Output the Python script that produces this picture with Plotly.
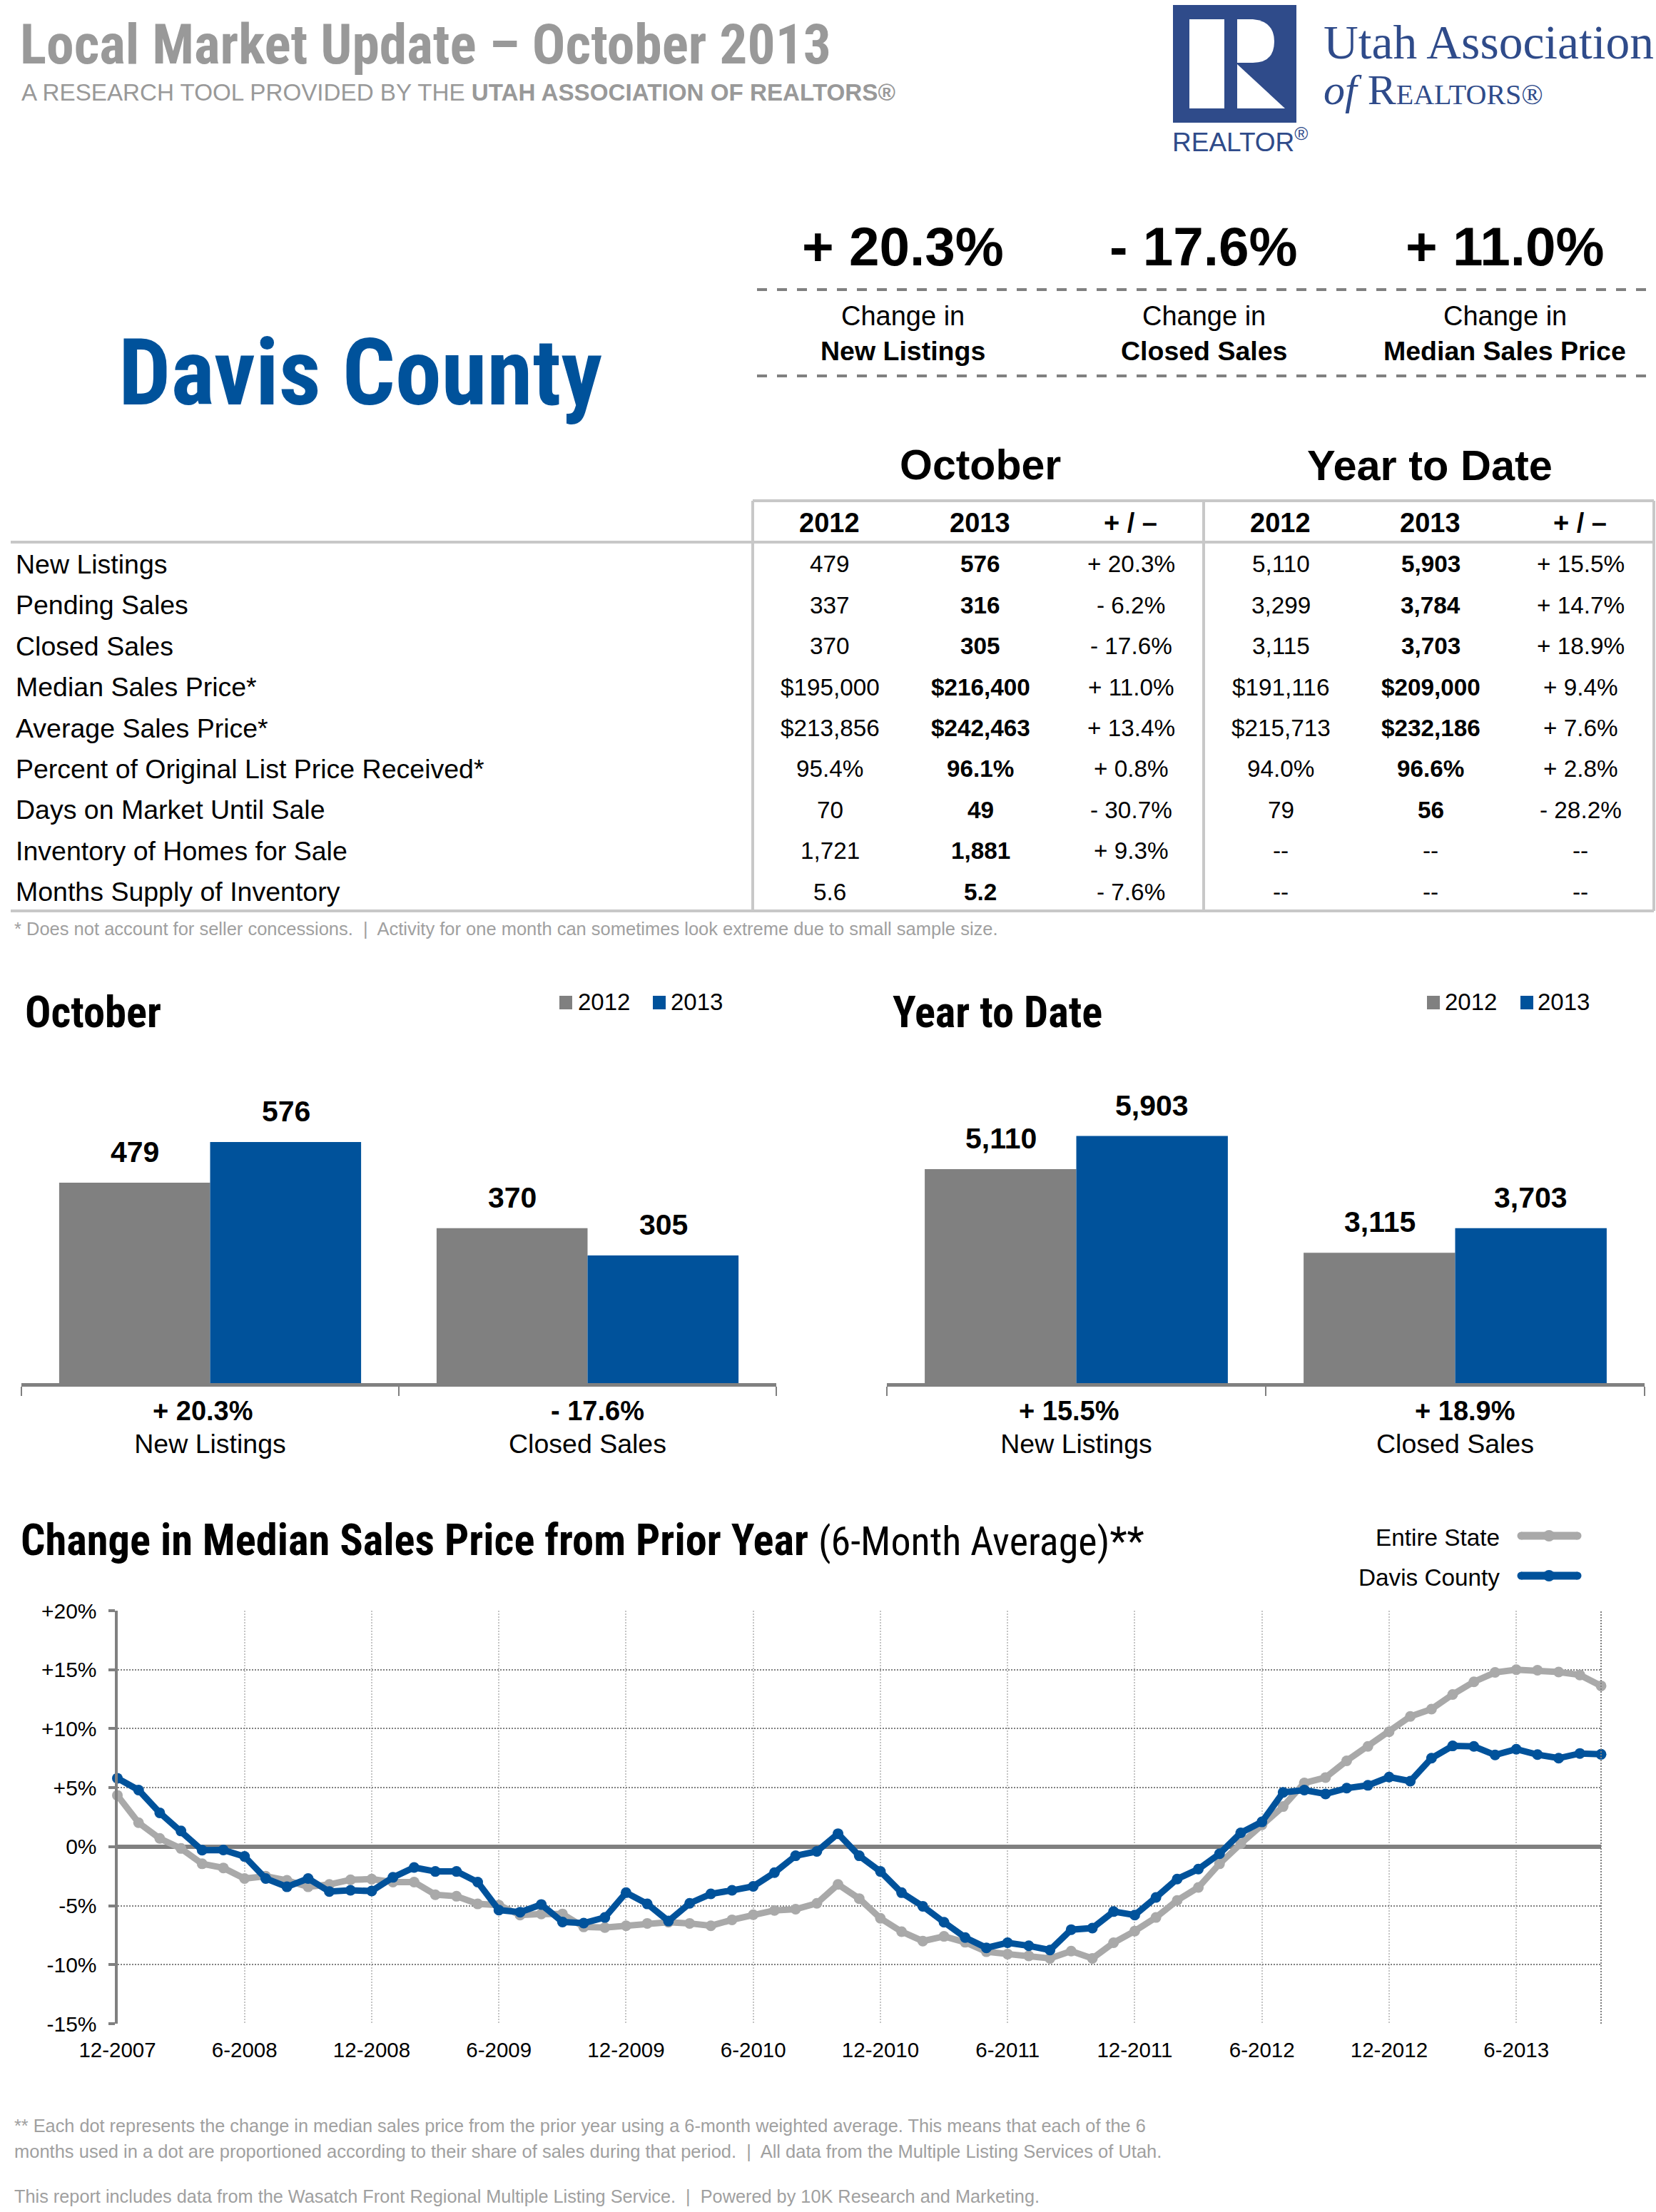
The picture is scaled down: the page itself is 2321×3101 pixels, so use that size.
import plotly.graph_objects as go

W, H = 2321, 3101
BODY = "Liberation Sans"
NARROW = "Roboto Condensed"
BLUE = "#00529b"
GRAY = "#808080"
LOGO = "#2f4b8a"

# table
row_labels = ["New Listings", "Pending Sales", "Closed Sales", "Median Sales Price*", "Average Sales Price*",
              "Percent of Original List Price Received*", "Days on Market Until Sale",
              "Inventory of Homes for Sale", "Months Supply of Inventory"]
oct_2012 = ["479", "337", "370", "$195,000", "$213,856", "95.4%", "70", "1,721", "5.6"]
oct_2013 = ["576", "316", "305", "$216,400", "$242,463", "96.1%", "49", "1,881", "5.2"]
oct_change = ["+ 20.3%", "- 6.2%", "- 17.6%", "+ 11.0%", "+ 13.4%", "+ 0.8%", "- 30.7%", "+ 9.3%", "- 7.6%"]
ytd_2012 = ["5,110", "3,299", "3,115", "$191,116", "$215,713", "94.0%", "79", "--", "--"]
ytd_2013 = ["5,903", "3,784", "3,703", "$209,000", "$232,186", "96.6%", "56", "--", "--"]
ytd_change = ["+ 15.5%", "+ 14.7%", "+ 18.9%", "+ 9.4%", "+ 7.6%", "+ 2.8%", "- 28.2%", "--", "--"]
table_head = ["2012", "2013", "+ / –", "2012", "2013", "+ / –"]

# headline numbers
top_changes = ["+ 20.3%", "- 17.6%", "+ 11.0%"]
top_labels = ["New Listings", "Closed Sales", "Median Sales Price"]

# bar charts
bar_cats = ["New Listings", "Closed Sales"]
oct_bars_2012 = [479, 370]
oct_bars_2013 = [576, 305]
ytd_bars_2012 = [5110, 3115]
ytd_bars_2013 = [5903, 3703]
oct_bar_change = ["+ 20.3%", "- 17.6%"]
ytd_bar_change = ["+ 15.5%", "+ 18.9%"]

# line chart, one value per month from 12-2007 to 10-2013
months = ["12-2007"] + [f"{m}-{y}" for y in range(2008, 2014) for m in range(1, 13)][:70]
state_vals = [4.35, 2.03, 0.7, -0.15, -1.45, -1.8, -2.7, -2.5, -2.85, -3.4, -3.2, -2.8, -2.75, -3.0, -3.0,
              -4.07, -4.2, -4.85, -4.95, -5.8, -5.7, -5.7, -6.8, -6.85, -6.7, -6.5, -6.4, -6.5, -6.7, -6.2,
              -5.77, -5.4, -5.3, -4.8, -3.2, -4.4, -6.07, -7.2, -8.0, -7.6, -8.1, -8.9, -9.1, -9.25, -9.47,
              -8.85, -9.47, -8.14, -7.15, -6.0, -4.56, -3.45, -1.45, 0.25, 1.85, 3.4, 5.4, 5.86, 7.28, 8.5,
              9.74, 11.04, 11.66, 12.9, 13.97, 14.77, 15.0, 14.95, 14.8, 14.55, 13.63]
davis_vals = [5.8, 4.8, 2.87, 1.33, -0.3, -0.28, -0.83, -2.7, -3.4, -2.7, -3.8, -3.7, -3.76, -2.6, -1.76,
              -2.1, -2.1, -3.0, -5.37, -5.55, -4.9, -6.38, -6.48, -6.0, -3.9, -4.85, -6.3, -4.8, -4.0, -3.7,
              -3.36, -2.2, -0.77, -0.4, 1.1, -0.77, -2.1, -3.9, -5.05, -6.4, -7.7, -8.57, -8.14, -8.4, -8.76,
              -7.03, -6.9, -5.5, -5.8, -4.3, -2.74, -1.9, -0.6, 1.17, 2.1, 4.6, 4.8, 4.47, 4.96, 5.2,
              5.9, 5.55, 7.5, 8.54, 8.5, 7.77, 8.26, 7.8, 7.5, 7.9, 7.83]
y_ticks = [-15, -10, -5, 0, 5, 10, 15, 20]
y_tick_text = ["-15%", "-10%", "-5%", "0%", "+5%", "+10%", "+15%", "+20%"]

annotations = []
shapes = []


def px(x):
    return x / W


def py(y):
    return 1 - y / H


def label(text, x, y, size, color="#000000", font=BODY, anchor="center"):
    annotations.append(dict(text=text, x=px(x), y=py(y), xref="paper", yref="paper", showarrow=False,
                            xanchor=anchor, yanchor="middle", font=dict(family=font, size=size, color=color)))


def rule(x0, y0, x1, y1, color="#c8c8c8", width=4, dash=None):
    shapes.append(dict(type="line", xref="paper", yref="paper", x0=px(x0), y0=py(y0), x1=px(x1), y1=py(y1),
                       line=dict(color=color, width=width, dash=dash)))


def box(x0, y0, x1, y1, color):
    shapes.append(dict(type="rect", xref="paper", yref="paper", x0=px(x0), y0=py(y0), x1=px(x1), y1=py(y1),
                       fillcolor=color, line=dict(width=0)))


def dot(cx, cy, r, color):
    shapes.append(dict(type="circle", xref="paper", yref="paper", x0=px(cx - r), x1=px(cx + r), y0=py(cy + r), y1=py(cy - r),
                       fillcolor=color, line=dict(width=0)))


fig = go.Figure()

# bars
for xa, ya, vals_2012, vals_2013, changes in [("x", "y", oct_bars_2012, oct_bars_2013, oct_bar_change),
                                              ("x2", "y2", ytd_bars_2012, ytd_bars_2013, ytd_bar_change)]:
    fig.add_trace(go.Bar(x=bar_cats, y=vals_2012, marker=dict(color=GRAY, line=dict(width=0)), xaxis=xa, yaxis=ya, showlegend=False))
    fig.add_trace(go.Bar(x=bar_cats, y=vals_2013, marker=dict(color=BLUE, line=dict(width=0)), xaxis=xa, yaxis=ya, showlegend=False))
    for cat, a, b, chg, nudge in zip(bar_cats, vals_2012, vals_2013, changes, (-10, 14)):
        for val, shift in ((a, -106), (b, 106)):
            annotations.append(dict(text=f"<b>{val:,}</b>", x=cat, y=val, xref=xa, yref=ya, xshift=shift, yshift=18,
                                    showarrow=False, yanchor="bottom", font=dict(family=BODY, size=41, color="#000000")))
        annotations.append(dict(text=f"<b>{chg}</b>", x=cat, y=py(1978), xref=xa, yref="paper", xshift=nudge,
                                showarrow=False, yanchor="middle", font=dict(family=BODY, size=38, color="#000000")))

# lines
fig.add_trace(go.Scatter(x=months, y=state_vals, mode="lines+markers", xaxis="x3", yaxis="y3", showlegend=False, cliponaxis=False,
                         line=dict(color="#a9a9a9", width=9), marker=dict(color="#a9a9a9", size=15)))
fig.add_trace(go.Scatter(x=months, y=davis_vals, mode="lines+markers", xaxis="x3", yaxis="y3", showlegend=False, cliponaxis=False,
                         line=dict(color=BLUE, width=9), marker=dict(color=BLUE, size=15)))

# page header
label("<b>Local Market Update – October 2013</b>", 26, 62, 77.5, "#999999", NARROW, "left")
label("A RESEARCH TOOL PROVIDED BY THE <b>UTAH ASSOCIATION OF REALTORS®</b>", 28, 130, 33.2, "#999999", BODY, "left")
label("<b>Davis County</b>", 505, 522, 130, BLUE, NARROW, "center")

# logo
box(1644, 7, 1817, 172, LOGO)
box(1667, 27, 1716, 152, "#ffffff")
shapes.append(dict(type="path", xref="paper", yref="paper", fillcolor="#ffffff", line=dict(width=0),
                   path=f"M {px(1734)},{py(27)} L {px(1756)},{py(27)} Q {px(1786)},{py(30)} {px(1786)},{py(58)} "
                        f"Q {px(1786)},{py(88)} {px(1756)},{py(88)} L {px(1734)},{py(88)} Z"))
shapes.append(dict(type="path", xref="paper", yref="paper", fillcolor="#ffffff", line=dict(width=0),
                   path=f"M {px(1734)},{py(90)} L {px(1801)},{py(152)} L {px(1734)},{py(152)} Z"))
label("REALTOR<sup>®</sup>", 1641, 197, 37, LOGO, BODY, "left")
label("Utah Association", 1853, 60, 67.5, LOGO, "Liberation Serif", "left")
label("<i>of</i> R<span style='font-size:40px'>EALTORS®</span>", 1853, 126, 60, LOGO, "Liberation Serif", "left")

# headline numbers
for cx, chg, name in zip([1265, 1687, 2109], top_changes, top_labels):
    label(f"<b>{chg}</b>", cx, 346, 76.5)
    label("Change in", cx, 443, 38)
    label(f"<b>{name}</b>", cx, 492, 37.5)
rule(1061, 406, 2321, 406, GRAY, 4, "14px,14px")
rule(1061, 527, 2321, 527, GRAY, 4, "14px,14px")

# table
label("<b>October</b>", 1374, 652, 59)
label("<b>Year to Date</b>", 2004, 652, 59.5)
rule(1055, 702, 2318, 702)
rule(15, 760, 2318, 760)
rule(15, 1277, 2318, 1277)
for x in (1055, 1687, 2318):
    rule(x, 702, x, 1277)
col_x = [1162, 1373, 1584, 1794, 2004, 2214]
for cx, head in zip(col_x, table_head):
    label(f"<b>{head}</b>", cx, 733, 38)
columns = [oct_2012, oct_2013, oct_change, ytd_2012, ytd_2013, ytd_change]
for i, name in enumerate(row_labels):
    y = 791 + i * 57.4
    label(name, 20, y, 37.5, anchor="left")
    for j, col in enumerate(columns):
        txt = col[i]
        if j in (1, 4) and txt != "--":
            txt = f"<b>{txt}</b>"
        label(txt, col_x[j] + 1, y, 33.3)
label("* Does not account for seller concessions.  |  Activity for one month can sometimes look extreme due to small sample size.",
      18, 1302, 25.5, "#a0a0a0", BODY, "left")

# bar headings and keys
label("<b>October</b>", 33, 1419, 60.5, "#000000", NARROW, "left")
label("<b>Year to Date</b>", 1249, 1419, 60.5, "#000000", NARROW, "left")
for swatch, text_x, color, year in [(784, 808, GRAY, "2012"), (915, 938, BLUE, "2013"), (2000, 2023, GRAY, "2012"), (2131, 2153, BLUE, "2013")]:
    box(swatch, 1396, swatch + 18, 1415, color)
    label(year, text_x, 1404, 33, anchor="left")

# line chart heading and key
label("<b>Change in Median Sales Price from Prior Year</b> <span style='font-size:56px'>(6-Month Average)**</span>",
      27, 2159, 60.5, "#000000", NARROW, "left")
for y, name, color in [(2155, "Entire State", "#a9a9a9"), (2211, "Davis County", BLUE)]:
    label(name, 2104, y, 33.3, anchor="right")
    rule(2132, y - 2, 2211, y - 2, color, 11)
    dot(2132, y - 2, 5.5, color)
    dot(2211, y - 2, 5.5, color)
    dot(2171, y - 2, 8, color)
shapes.append(dict(type="line", xref="x3 domain", yref="y3 domain", x0=1, x1=1, y0=0, y1=1,
                   line=dict(color=GRAY, width=2, dash="2px,2px")))

# footers
label("** Each dot represents the change in median sales price from the prior year using a 6-month weighted average. This means that each of the 6",
      18, 2980, 25.3, "#a0a0a0", BODY, "left")
label("months used in a dot are proportioned according to their share of sales during that period.  |  All data from the Multiple Listing Services of Utah.",
      18, 3016, 25.5, "#a0a0a0", BODY, "left")
label("This report includes data from the Wasatch Front Regional Multiple Listing Service.  |  Powered by 10K Research and Marketing.",
      18, 3079, 25.3, "#a0a0a0", BODY, "left")

bar_xaxis = dict(type="category", categoryorder="array", categoryarray=bar_cats, tickson="boundaries", ticks="outside",
                 ticklen=13, tickwidth=2, tickcolor=GRAY, showline=True, linecolor=GRAY, linewidth=5, showgrid=False,
                 tickfont=dict(family=BODY, size=37.5, color="#000000"), ticklabelstandoff=48)
bar_yaxis = dict(showticklabels=False, showgrid=False, zeroline=False, showline=False, ticks="",
                 domain=[py(1939), py(1500)])

fig.update_layout(
    template="none",
    width=W, height=H, margin=dict(l=0, r=0, t=0, b=0), paper_bgcolor="#ffffff", plot_bgcolor="#ffffff",
    barmode="group", bargap=0.2, bargroupgap=0,
    annotations=annotations, shapes=shapes,
    xaxis=dict(bar_xaxis, domain=[px(30), px(1088)], anchor="y"),
    yaxis=dict(bar_yaxis, anchor="x", range=[0, 748]),
    xaxis2=dict(bar_xaxis, domain=[px(1243), px(2305)], anchor="y2"),
    yaxis2=dict(bar_yaxis, anchor="x2", range=[0, 7479]),
    xaxis3=dict(type="category", domain=[px(164.5), px(2244)], anchor="y3", range=[0, 70], tickmode="linear", tick0=0, dtick=6,
                showgrid=True, gridcolor="#c4c4c4", gridwidth=2, griddash="2px,2px", showline=False, ticks="",
                tickfont=dict(family=BODY, size=29.5, color="#000000"), ticklabelstandoff=16, tickangle=0),
    yaxis3=dict(domain=[py(2837), py(2258)], anchor="x3", range=[-15, 20], tickmode="array", tickvals=y_ticks, ticktext=y_tick_text,
                showgrid=True, gridcolor=GRAY, gridwidth=2, griddash="2px,2px", zeroline=True, zerolinecolor=GRAY, zerolinewidth=6,
                showline=True, linecolor=GRAY, linewidth=4, ticks="outside", ticklen=9, tickwidth=4, tickcolor=GRAY,
                tickfont=dict(family=BODY, size=30, color="#000000"), ticklabelstandoff=10),
)

fig.write_html("out.html", post_script="document.body.style.margin='0';", config={"displayModeBar": False})
